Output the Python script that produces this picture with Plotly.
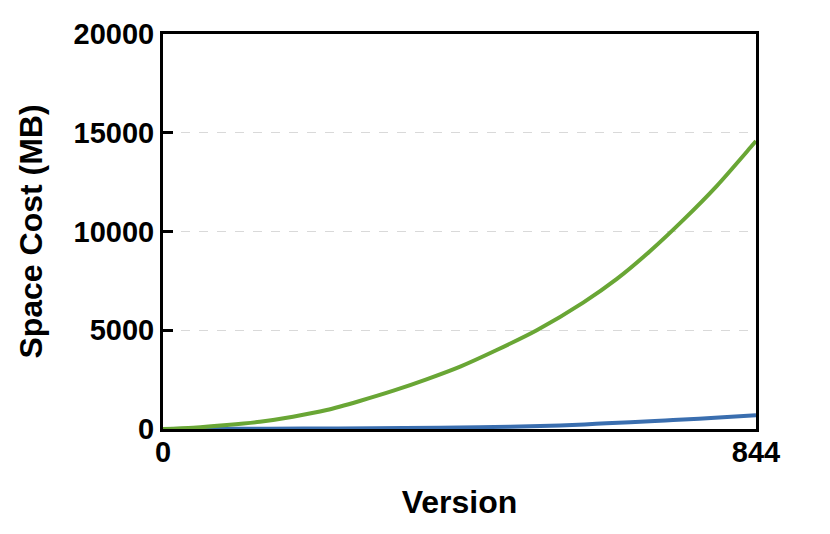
import plotly.graph_objects as go

# Data
green_versions = [0, 43, 91, 138, 185, 233, 280, 328, 375, 423, 475, 532, 598, 646, 693, 741, 788, 836, 844]
green_cost = [0, 66, 200, 370, 625, 960, 1420, 1940, 2515, 3160, 4000, 5000, 6400, 7600, 9000, 10600, 12300, 14250, 14580]

blue_versions = [0, 100, 200, 300, 394, 450, 537, 600, 631, 700, 726, 797, 844]
blue_cost = [0, 10, 20, 35, 60, 90, 150, 230, 290, 400, 455, 590, 700]

y_ticks = [0, 5000, 10000, 15000, 20000]
x_ticks = [0, 844]

GREEN = "#69A635"
BLUE = "#3A6EAF"
FONT = "Liberation Sans, Arial, Helvetica, sans-serif"

fig = go.Figure()
fig.add_trace(go.Scatter(x=blue_versions, y=blue_cost, mode="lines",
                         line=dict(color=BLUE, width=4, shape="spline", smoothing=0.8),
                         showlegend=False, cliponaxis=False))
fig.add_trace(go.Scatter(x=green_versions, y=green_cost, mode="lines",
                         line=dict(color=GREEN, width=4, shape="spline", smoothing=0.8),
                         showlegend=False, cliponaxis=False))

# page body has an 8px margin, so the margins are offset accordingly
fig.update_layout(
    width=830, height=534,
    margin=dict(l=155, r=82, t=26, b=113),
    paper_bgcolor="white", plot_bgcolor="white",
    font=dict(family=FONT, color="black"),
)

fig.update_xaxes(
    range=[0, 844], tickvals=x_ticks, ticktext=[str(v) for v in x_ticks],
    showgrid=False, zeroline=False,
    showline=True, linecolor="black", linewidth=3, mirror=True,
    ticks="", tickfont=dict(size=29, family=FONT, weight="bold"),
    ticklabelstandoff=-5,
    title=dict(text="<b>Version</b>", font=dict(size=32, family=FONT), standoff=24),
    automargin=False,
)
fig.update_yaxes(
    range=[0, 20000], tickvals=y_ticks, ticktext=[str(v) for v in y_ticks],
    showgrid=True, gridcolor="#D9D9D9", griddash="dash", gridwidth=1,
    zeroline=False,
    showline=True, linecolor="black", linewidth=3, mirror=True,
    ticks="inside", ticklen=10, tickwidth=3, tickcolor="black",
    tickfont=dict(size=29, family=FONT, weight="bold"),
    title=dict(text="<b>Space Cost (MB)</b>", font=dict(size=32, family=FONT), standoff=22),
    automargin=False,
)

fig.write_html("out.html")
